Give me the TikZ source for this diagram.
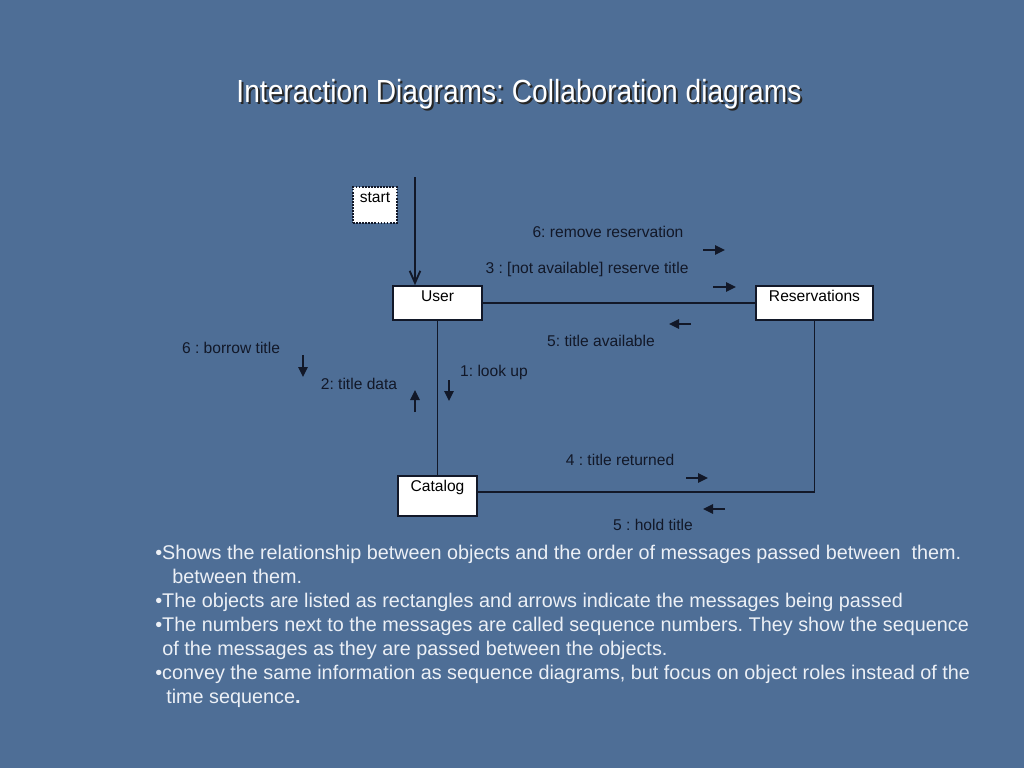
\documentclass[tikz,border=0pt]{standalone}
\usepackage{fontspec}
\setmainfont{Liberation Sans}
\newfontfamily\titlefont[FakeStretch=0.88]{Liberation Sans}
\usetikzlibrary{arrows.meta}
\frenchspacing

\definecolor{slidebg}{RGB}{78,110,150}
\definecolor{msgink}{RGB}{18,24,40}
\definecolor{noteink}{RGB}{236,240,246}

\begin{document}
\begin{tikzpicture}[x=0.75pt, y=-0.75pt,
  obj box/.style={draw=msgink, fill=white, line width=1.3pt, inner sep=0pt,
    font=\fontsize{11.7}{13}\selectfont, text=black},
  link/.style={draw=msgink, line width=1.4pt},
  msg label/.style={font=\fontsize{11.7}{13}\selectfont, text=msgink, inner sep=0pt},
  msg arrow/.style={-{Triangle[length=7.5pt,width=7pt]}, line width=1.3pt, msgink},
  note line/.style={anchor=base west, inner sep=0pt, text=noteink,
    font=\fontsize{14.85}{18}\selectfont},
  slide title/.style={anchor=base, inner sep=0pt, font=\titlefont\fontsize{24}{28}\selectfont}
]
\useasboundingbox (0,0) rectangle (1024,768);
\fill[slidebg] (0,0) rectangle (1024,768);

% title
\node[slide title, text=black!85] (title shadow) at (521,104) {Interaction Diagrams: Collaboration diagrams};
\node[slide title, text=white] (title) at (519,102) {Interaction Diagrams: Collaboration diagrams};

% objects
\node[obj box, draw=msgink, densely dotted, line width=0.8pt, minimum width=33pt,
  text height=11.25pt, text depth=15.75pt] (start) at (375,205) {start};
\node[obj box, minimum width=66.75pt, text height=11.25pt, text depth=14.25pt] (user) at (437.5,303) {User};
\node[obj box, minimum width=87.75pt, text height=11.25pt, text depth=14.25pt] (reservations) at (814.5,303) {Reservations};
\node[obj box, minimum width=59.25pt, text height=11.25pt, text depth=18.75pt] (catalog) at (437.5,496) {Catalog};

% links
\coordinate (entry) at (415,177);
\draw[link, -{Straight Barb[length=9pt,width=8pt]}] (entry) -- (entry |- user.north);
\draw[link] (user) -- (reservations);
\draw[link] (user) -- (catalog);
\draw[link] ([yshift=3pt]catalog.east) -| (reservations.south);

% messages
\node[msg label] (remove) at (608,232) {6: remove reservation};
\node[msg label] (reserve) at (587,269) {3 : [not available] reserve title};
\node[msg label] (available) at (601,341) {5: title available};
\node[msg label] (borrow) at (231,348) {6 : borrow title};
\node[msg label] (title data) at (359,384) {2: title data};
\node[msg label] (look up) at (494,372) {1: look up};
\node[msg label] (returned) at (620,460) {4 : title returned};
\node[msg label] (hold) at (653,525) {5 : hold title};

\draw[msg arrow] (703,250) -- ++(22,0);
\draw[msg arrow] (713,287) -- ++(23,0);
\draw[msg arrow] (691,324) -- ++(-22,0);
\draw[msg arrow] (303,355) -- ++(0,22);
\draw[msg arrow] (415,412) -- ++(0,-22);
\draw[msg arrow] (449,380) -- ++(0,21);
\draw[msg arrow] (686,478) -- ++(22,0);
\draw[msg arrow] (725,509) -- ++(-22,0);

% notes
\foreach \x/\y/\txt [count=\i] in {
  155/559/{\textbullet Shows the relationship between objects and the order of messages passed between\ \ them.},
  172/583/{between them.},
  155/607/{\textbullet The objects are listed as rectangles and arrows indicate the messages being passed},
  155/631/{\textbullet The numbers next to the messages are called sequence numbers. They show the sequence},
  162/655/{of the messages as they are passed between the objects.},
  155/679/{\textbullet convey the same information as sequence diagrams, but focus on object roles instead of the},
  166/703/{time sequence\textbf{.}}}
  \node[note line] (note\i) at (\x,\y) {\txt};
\end{tikzpicture}
\end{document}
